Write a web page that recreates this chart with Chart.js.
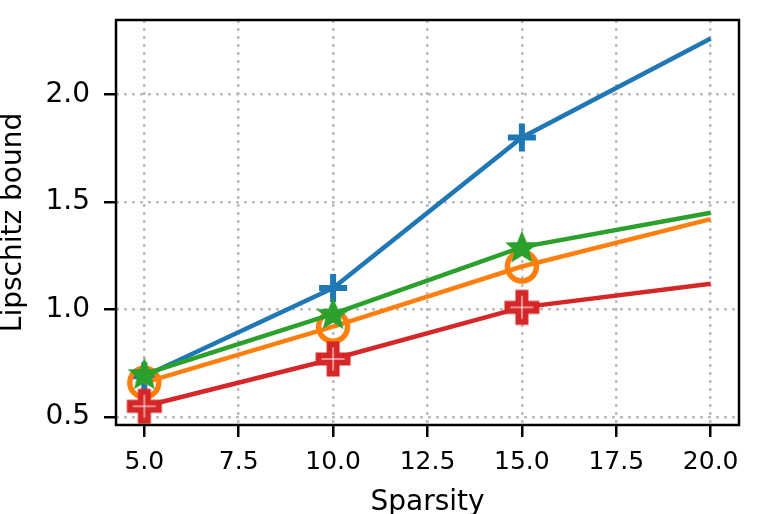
<!DOCTYPE html>
<html>
<head>
<meta charset="utf-8">
<script src="https://cdn.jsdelivr.net/npm/chart.js@4.4.1/dist/chart.umd.min.js"></script>
<style>
  html, body { margin: 0; padding: 0; background: #fff; }
  #wrap { width: 759px; height: 514px; }
</style>
</head>
<body>
<div id="wrap"><canvas id="lip-chart" width="759" height="514"></canvas></div>
<script>
// values
var sparsity = [5, 10, 15, 20];
var blueVals = [0.69, 1.10, 1.80, 2.26];
var orangeVals = [0.66, 0.92, 1.20, 1.42];
var greenVals = [0.70, 0.98, 1.29, 1.45];
var redVals = [0.55, 0.77, 1.01, 1.12];
var xTicks = [5, 7.5, 10, 12.5, 15, 17.5, 20];
var yTicks = [0.5, 1.0, 1.5, 2.0];

var BLUE = '#1f77b4', ORANGE = '#ff7f0e', GREEN = '#2ca02c', RED = '#d62728';

function toPoints(vals) {
    return vals.map((v, i) => ({ x: sparsity[i], y: v }));
}

// filled star marker
function starMarker(color) {
    const c = document.createElement('canvas');
    c.width = 38; c.height = 38;
    const g = c.getContext('2d');
    g.translate(19, 20);
    g.beginPath();
    for (let i = 0; i < 10; i++) {
        const r = i % 2 === 0 ? 15 : 6.6;
        const a = -Math.PI / 2 + i * Math.PI / 5;
        g.lineTo(r * Math.cos(a), r * Math.sin(a));
    }
    g.closePath();
    g.fillStyle = color;
    g.fill();
    g.lineWidth = 2;
    g.lineJoin = 'miter';
    g.strokeStyle = color;
    g.stroke();
    return c;
}

// hollow "P" (filled-plus) marker
function plusMarker(color) {
    const c = document.createElement('canvas');
    c.width = 42; c.height = 42;
    const g = c.getContext('2d');
    g.translate(21, 21);
    const e = 14.5, w = 3.5;
    const pts = [[-w, -e], [w, -e], [w, -w], [e, -w], [e, w], [w, w], [w, e], [-w, e], [-w, w], [-e, w], [-e, -w], [-w, -w]];
    g.beginPath();
    pts.forEach(p => g.lineTo(p[0], p[1]));
    g.closePath();
    g.fillStyle = '#ffffff';
    g.fill();
    g.lineWidth = 6;
    g.lineJoin = 'miter';
    g.strokeStyle = color;
    g.stroke();
    return c;
}

const starImg = starMarker(GREEN);
const plusImg = plusMarker(RED);

const boxPlugin = {
    id: 'box',
    afterDraw(chart) {
        const a = chart.chartArea;
        const ctx = chart.ctx;
        ctx.save();
        ctx.strokeStyle = '#000';
        ctx.lineWidth = 2.5;
        ctx.strokeRect(a.left, a.top, a.right - a.left, a.bottom - a.top);
        ctx.restore();
    }
};

const ctx = document.getElementById('lip-chart');
new Chart(ctx, {
    type: 'line',
    data: {
        datasets: [
            {
                label: 'blue',
                data: toPoints(blueVals),
                borderColor: BLUE,
                backgroundColor: BLUE,
                borderWidth: 4.5,
                pointStyle: 'cross',
                pointRadius: [14, 14, 14, 0],
                pointBorderWidth: 6,
                pointBorderColor: BLUE,
                order: 4
            },
            {
                label: 'orange',
                data: toPoints(orangeVals),
                borderColor: ORANGE,
                backgroundColor: 'rgba(0,0,0,0)',
                borderWidth: 4.5,
                pointStyle: 'circle',
                pointRadius: [14.5, 14.5, 14.5, 0],
                pointBorderWidth: 5.5,
                pointBorderColor: ORANGE,
                pointBackgroundColor: 'rgba(0,0,0,0)',
                order: 3
            },
            {
                label: 'green',
                data: toPoints(greenVals),
                borderColor: GREEN,
                backgroundColor: GREEN,
                borderWidth: 4.5,
                pointStyle: starImg,
                pointRadius: [14, 14, 14, 0],
                order: 2
            },
            {
                label: 'red',
                data: toPoints(redVals),
                borderColor: RED,
                backgroundColor: RED,
                borderWidth: 4.5,
                pointStyle: plusImg,
                pointRadius: [14, 14, 14, 0],
                order: 1
            }
        ]
    },
    options: {
        responsive: false,
        animation: false,
        clip: false,
        layout: { padding: { top: 17, right: 18, left: 0, bottom: 0 } },
        elements: { line: { tension: 0 } },
        scales: {
            x: {
                type: 'linear',
                min: 4.25,
                max: 20.75,
                afterBuildTicks: (s) => { s.ticks = xTicks.map(v => ({ value: v })); },
                afterFit: (s) => { s.height = 89; s.paddingLeft = 0; s.paddingRight = 0; },
                ticks: {
                    color: '#000',
                    font: { family: 'DejaVu Sans', size: 25 },
                    padding: 10,
                    maxRotation: 0,
                    callback: (v) => Number(v).toFixed(1)
                },
                grid: {
                    color: '#bdbdbd',
                    lineWidth: 2.5,
                    tickColor: '#000',
                    tickWidth: 2.5,
                    tickLength: 12
                },
                border: { display: false, dash: [3, 5] },
                title: {
                    display: true,
                    text: 'Sparsity',
                    color: '#000',
                    font: { family: 'DejaVu Sans', size: 28, lineHeight: 0.8 },
                    padding: 0
                }
            },
            y: {
                min: 0.463,
                max: 2.346,
                afterBuildTicks: (s) => { s.ticks = yTicks.map(v => ({ value: v })); },
                afterFit: (s) => { s.width = 116; s.paddingTop = 0; s.paddingBottom = 0; },
                ticks: {
                    color: '#000',
                    font: { family: 'DejaVu Sans', size: 28 },
                    padding: 14,
                    callback: (v) => Number(v).toFixed(1)
                },
                grid: {
                    color: '#bdbdbd',
                    lineWidth: 2.5,
                    tickColor: '#000',
                    tickWidth: 2.5,
                    tickLength: 12
                },
                border: { display: false, dash: [3, 5] },
                title: {
                    display: true,
                    text: 'Lipschitz bound',
                    color: '#000',
                    font: { family: 'DejaVu Sans', size: 28, lineHeight: 1 },
                    padding: 0
                }
            }
        },
        plugins: {
            legend: { display: false },
            tooltip: { enabled: false }
        }
    },
    plugins: [boxPlugin]
});
</script>
</body>
</html>
